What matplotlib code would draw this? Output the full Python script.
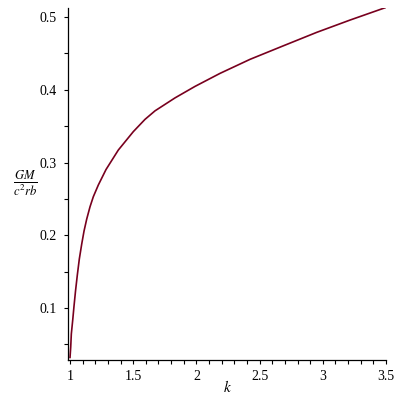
import matplotlib
matplotlib.use('Agg')
import matplotlib.pyplot as plt
from matplotlib.ticker import MultipleLocator
import numpy as np

# values
k = [1.0, 1.0055, 1.0103, 1.0214, 1.0316, 1.0435, 1.0578, 1.0736, 1.0926,
     1.1108, 1.1321, 1.1582, 1.1843, 1.2239, 1.2848, 1.3821, 1.5008, 1.5934,
     1.6725, 1.8307, 1.9889, 2.1867, 2.4241, 2.6875, 2.9517, 3.2152, 3.5]
gm = [0.032, 0.0464, 0.0643, 0.0835, 0.1027, 0.1234, 0.1454, 0.1674, 0.1880,
      0.2058, 0.2223, 0.2392, 0.2530, 0.2691, 0.2904, 0.3172, 0.3425, 0.3594,
      0.3711, 0.3889, 0.4047, 0.4226, 0.4419, 0.4605, 0.4790, 0.4959, 0.5133]
xticks = [1, 1.5, 2, 2.5, 3, 3.5]
xticklabels = ['1', '1.5', '2', '2.5', '3', '3.5']
yticks = [0.1, 0.2, 0.3, 0.4, 0.5]

plt.rcParams['font.family'] = ['Liberation Serif', 'DejaVu Serif']
plt.rcParams['mathtext.fontset'] = 'stix'

fig = plt.figure(figsize=(4, 4), dpi=100)
ax = fig.add_axes([0.17, 0.10, 0.795, 0.88])
ax.plot(k, gm, color='#78001e', linewidth=1.2)

ax.set_xlim(0.984, 3.5)
ax.set_ylim(0.0285, 0.5125)
ax.set_xticks(xticks)
ax.set_xticklabels(xticklabels)
ax.set_yticks(yticks)
ax.xaxis.set_minor_locator(MultipleLocator(0.1))
ax.yaxis.set_minor_locator(MultipleLocator(0.05))
ax.tick_params(which='both', direction='out', length=3, width=0.8,
               labelsize=10, colors='black')
ax.tick_params(axis='x', pad=4)
ax.tick_params(axis='y', pad=5)

for s in ['top', 'right']:
    ax.spines[s].set_visible(False)
for s in ['left', 'bottom']:
    ax.spines[s].set_linewidth(0.9)

fig.text(25 / 400, 1 - 183 / 400, r'$\frac{GM}{c^2rb}$', fontsize=13,
         ha='center', va='center')
fig.text(228 / 400, 1 - 387 / 400, r'$k$', fontsize=11,
         ha='center', va='center')

fig.savefig('out.png', dpi=100)
